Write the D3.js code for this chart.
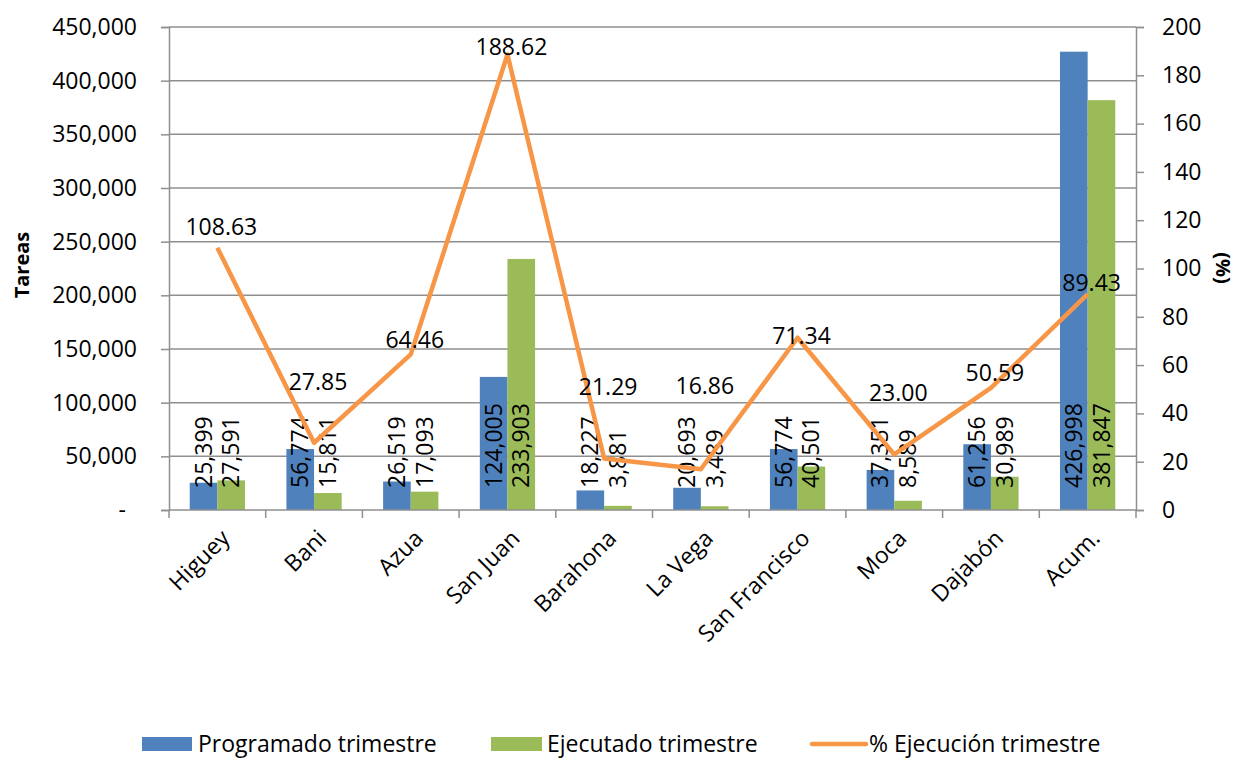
<!DOCTYPE html>
<html>
<head>
<meta charset="utf-8">
<script src="https://cdn.jsdelivr.net/npm/d3@7"></script>
<style>
  body { margin: 0; background: #fff; }
  svg text { font-family: "Open Sans", "Noto Sans", sans-serif; fill: #000; }
</style>
</head>
<body>
<div id="chart"></div>
<script>

// data
var categories = ["Higuey", "Bani", "Azua", "San Juan", "Barahona", "La Vega", "San Francisco", "Moca", "Dajabón", "Acum."];
var programado = [25399, 56774, 26519, 124005, 18227, 20693, 56774, 37351, 61256, 426998];
var ejecutado  = [27591, 15811, 17093, 233903, 3881, 3489, 40501, 8589, 30989, 381847];
var ejecucion  = [108.63, 27.85, 64.46, 188.62, 21.29, 16.86, 71.34, 23.00, 50.59, 89.43];
var leftTicks  = [0, 50000, 100000, 150000, 200000, 250000, 300000, 350000, 400000, 450000];
var rightTicks = [0, 20, 40, 60, 80, 100, 120, 140, 160, 180, 200];

// where the line labels sit relative to their point (px), as in the original
var lineLabelDy = [-21, -61, -14, -8, -72, -83, -2, -62, -15, -11];

var width = 1240, height = 758;
var plotLeft = 169, plotRight = 1136, plotTop = 27, plotBottom = 510;
var blue = "#4F81BD", green = "#9BBB59", orange = "#F79646", grid = "#8f8f8f";

var svg = d3.select("#chart").append("svg")
  .attr("width", width)
  .attr("height", height);

var x = d3.scaleBand().domain(categories).range([plotLeft, plotRight]);
var xSub = d3.scaleBand().domain(["prog", "ejec"]).range([0, x.bandwidth()]).paddingOuter(0.75);
var y = d3.scaleLinear().domain([0, 450000]).range([plotBottom, plotTop]);
var y2 = d3.scaleLinear().domain([0, 200]).range([plotBottom, plotTop]);

// gridlines
svg.append("g").selectAll("line")
  .data(leftTicks.slice(1))
  .enter().append("line")
  .attr("x1", plotLeft).attr("x2", plotRight)
  .attr("y1", function(d) { return y(d); })
  .attr("y2", function(d) { return y(d); })
  .attr("stroke", grid).attr("stroke-width", 1.5);

// left axis
var yAxis = d3.axisLeft(y)
  .tickValues(leftTicks)
  .tickSize(8)
  .tickPadding(24)
  .tickFormat(function(d) { return d === 0 ? "-" : d3.format(",")(d); });

var gy = svg.append("g")
  .attr("transform", "translate(" + plotLeft + ",0)")
  .call(yAxis);
gy.select(".domain").attr("stroke", grid).attr("stroke-width", 1.5);
gy.selectAll(".tick line").attr("stroke", grid).attr("stroke-width", 1.5);
gy.selectAll(".tick text").attr("font-size", "23px").attr("font-family", "'Open Sans', sans-serif").attr("fill", "#000");
gy.selectAll(".tick text").filter(function(d) { return d === 0; }).attr("dx", -11);

// right axis
var y2Axis = d3.axisRight(y2)
  .tickValues(rightTicks)
  .tickSize(8)
  .tickPadding(18);

var gy2 = svg.append("g")
  .attr("transform", "translate(" + plotRight + ",0)")
  .call(y2Axis);
gy2.select(".domain").attr("stroke", grid).attr("stroke-width", 1.5);
gy2.selectAll(".tick line").attr("stroke", grid).attr("stroke-width", 1.5);
gy2.selectAll(".tick text").attr("font-size", "23px").attr("font-family", "'Open Sans', sans-serif").attr("fill", "#000");

// bars
var groups = svg.append("g").selectAll("g")
  .data(categories)
  .enter().append("g")
  .attr("transform", function(d) { return "translate(" + x(d) + ",0)"; });

groups.append("rect")
  .attr("x", xSub("prog"))
  .attr("y", function(d, i) { return y(programado[i]); })
  .attr("width", xSub.bandwidth())
  .attr("height", function(d, i) { return plotBottom - y(programado[i]); })
  .attr("fill", blue);

groups.append("rect")
  .attr("x", xSub("ejec"))
  .attr("y", function(d, i) { return y(ejecutado[i]); })
  .attr("width", xSub.bandwidth())
  .attr("height", function(d, i) { return plotBottom - y(ejecutado[i]); })
  .attr("fill", green);

// bottom axis (ticks between categories)
var gx = svg.append("g");
gx.append("line")
  .attr("x1", plotLeft).attr("x2", plotRight)
  .attr("y1", plotBottom).attr("y2", plotBottom)
  .attr("stroke", grid).attr("stroke-width", 1.5);
gx.selectAll(".xt")
  .data(categories.map(function(d) { return x(d); }).concat([plotRight]))
  .enter().append("line")
  .attr("class", "xt")
  .attr("x1", function(d) { return d; }).attr("x2", function(d) { return d; })
  .attr("y1", plotBottom).attr("y2", plotBottom + 8)
  .attr("stroke", grid).attr("stroke-width", 1.5);

gx.selectAll("text")
  .data(categories)
  .enter().append("text")
  .attr("transform", function(d) {
    return "translate(" + (x(d) + x.bandwidth() / 2 + 8) + "," + (plotBottom + 24) + ") rotate(-45)";
  })
  .attr("text-anchor", "end")
  .attr("dy", "0.35em")
  .attr("font-size", "23px")
  .text(function(d) { return d; });

// bar labels
var fmt = d3.format(",");
groups.append("text")
  .attr("transform", "translate(" + (xSub("prog") + xSub.bandwidth() / 2) + ",488) rotate(-90)")
  .attr("dy", "0.35em")
  .attr("font-size", "23px")
  .text(function(d, i) { return fmt(programado[i]); });

groups.append("text")
  .attr("transform", "translate(" + (xSub("ejec") + xSub.bandwidth() / 2) + ",488) rotate(-90)")
  .attr("dy", "0.35em")
  .attr("font-size", "23px")
  .text(function(d, i) { return fmt(ejecutado[i]); });

// line
var line = d3.line()
  .x(function(d, i) { return x(categories[i]) + x.bandwidth() / 2; })
  .y(function(d) { return y2(d); });

svg.append("path")
  .datum(ejecucion)
  .attr("d", line)
  .attr("fill", "none")
  .attr("stroke", orange)
  .attr("stroke-width", 4.5)
  .attr("stroke-linejoin", "round");

svg.append("g").selectAll("text")
  .data(ejecucion)
  .enter().append("text")
  .attr("x", function(d, i) { return x(categories[i]) + x.bandwidth() / 2 + 4; })
  .attr("y", function(d, i) { return y2(d) + lineLabelDy[i]; })
  .attr("dy", "0.35em")
  .attr("text-anchor", "middle")
  .attr("font-size", "23px")
  .text(function(d) { return d3.format(".2f")(d); });

// axis titles
svg.append("text")
  .attr("transform", "translate(22,265) rotate(-90)")
  .attr("text-anchor", "middle")
  .attr("dy", "0.35em")
  .attr("font-size", "20px")
  .attr("font-weight", "bold")
  .text("Tareas");

svg.append("text")
  .attr("transform", "translate(1223,268) rotate(90)")
  .attr("text-anchor", "middle")
  .attr("dy", "0.35em")
  .attr("font-size", "20px")
  .attr("font-weight", "bold")
  .text("(%)");

// legend
var legendY = 744;
var legend = svg.append("g");
legend.append("rect").attr("x", 142).attr("y", legendY - 7).attr("width", 50).attr("height", 14).attr("fill", blue);
legend.append("text").attr("x", 198).attr("y", legendY).attr("dy", "0.35em").attr("font-size", "23px").text("Programado trimestre");
legend.append("rect").attr("x", 491).attr("y", legendY - 7).attr("width", 51).attr("height", 14).attr("fill", green);
legend.append("text").attr("x", 547).attr("y", legendY).attr("dy", "0.35em").attr("font-size", "23px").text("Ejecutado trimestre");
legend.append("line").attr("x1", 812).attr("x2", 866).attr("y1", legendY).attr("y2", legendY)
  .attr("stroke", orange).attr("stroke-width", 4.5).attr("stroke-linecap", "round");
legend.append("text").attr("x", 869).attr("y", legendY).attr("dy", "0.35em").attr("font-size", "23px").text("% Ejecución trimestre");

</script>
</body>
</html>
